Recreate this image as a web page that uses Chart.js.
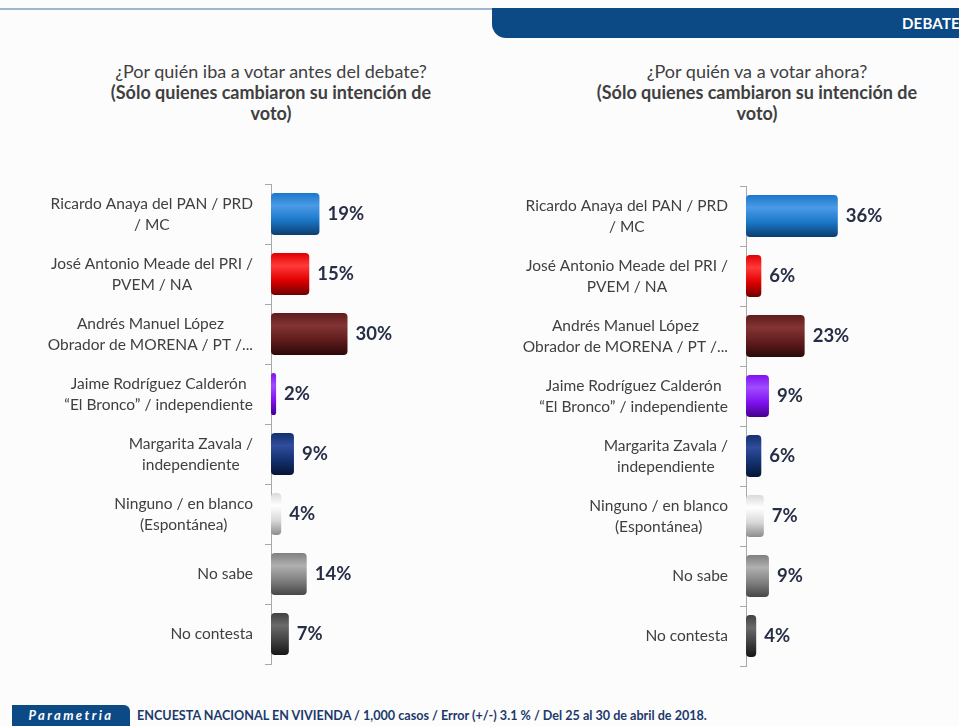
<!DOCTYPE html>
<html>
<head>
<meta charset="utf-8">
<script src="https://cdn.jsdelivr.net/npm/chart.js@4/dist/chart.umd.min.js"></script>
<style>
  body { margin: 0; width: 959px; height: 726px; background: #fcfcfd; position: relative; overflow: hidden; font-family: Lato, "Open Sans", sans-serif; }
  .banner { position: absolute; left: 492px; top: 8px; width: 480px; height: 30px; background: #0c4a86; border-bottom-left-radius: 14px; }
  .banner span { position: absolute; left: 410px; top: 6px; color: #fff; font-weight: bold; font-size: 15px; letter-spacing: 0.2px; }
  .topline { position: absolute; left: 0; top: 8px; width: 500px; height: 2px; background: #9fb6cf; }
  .title { position: absolute; top: 61px; width: 420px; text-align: center; color: #404040; font-size: 18px; line-height: 21px; }
  .title b { font-weight: bold; }
  .chart { position: absolute; top: 170px; width: 479px; height: 510px; }
  .logo { position: absolute; left: 12px; top: 705px; width: 118px; height: 21px; background: #0c4a86; border-top-right-radius: 6px; color: #fff; font-weight: bold; font-style: italic; font-size: 13px; letter-spacing: 2.4px; line-height: 21px; text-align: center; }
  .foot { position: absolute; left: 137px; top: 708px; color: #1b3a6b; font-size: 12.6px; font-weight: bold; }
</style>
</head>
<body>
<div class="topline"></div>
<div class="banner"><span>DEBATE</span></div>
<div class="title" style="left:61px">¿Por quién iba a votar antes del debate?<br><b>(Sólo quienes cambiaron su intención de<br>voto)</b></div>
<div class="title" style="left:547px">¿Por quién va a votar ahora?<br><b>(Sólo quienes cambiaron su intención de<br>voto)</b></div>
<div class="chart" style="left:0"><canvas id="before_chart"></canvas></div>
<div class="chart" style="left:480px"><canvas id="now_chart"></canvas></div>
<div class="logo">Parametria</div>
<div class="foot">ENCUESTA NACIONAL EN VIVIENDA / 1,000 casos / Error (+/-) 3.1 % / Del 25 al 30 de abril de 2018.</div>
<script>
var candidates = [
    ["Ricardo Anaya del PAN / PRD", "/ MC"],
    ["José Antonio Meade del PRI /", "PVEM / NA"],
    ["Andrés Manuel López", "Obrador de MORENA / PT /..."],
    ["Jaime Rodríguez Calderón", "“El Bronco” / independiente"],
    ["Margarita Zavala /", "independiente"],
    ["Ninguno / en blanco", "(Espontánea)"],
    ["No sabe"],
    ["No contesta"]
];
var before_values = [19, 15, 30, 2, 9, 4, 14, 7];
var now_values = [36, 6, 23, 9, 6, 7, 9, 4];

// light, mid, dark for each bar (cylinder look)
var bar_colors = [
    ["#4a9be6", "#1c77c9", "#0c3d6e"],
    ["#ff3a3a", "#e00000", "#6e0000"],
    ["#833434", "#5f1c1c", "#2c0909"],
    ["#a04cff", "#7f12f0", "#45008c"],
    ["#2f4d9c", "#14306f", "#061536"],
    ["#ffffff", "#d9d9d9", "#8c8c8c"],
    ["#b0b0b0", "#808080", "#474747"],
    ["#6a6a6a", "#414141", "#161616"]
];

function barGradient(ctx) {
    var chart = ctx.chart;
    var c = bar_colors[ctx.dataIndex];
    if (!chart.chartArea || ctx.dataIndex === undefined) return c[1];
    var y = chart.scales.y.getPixelForValue(ctx.dataIndex);
    var g = chart.ctx.createLinearGradient(0, y - 21, 0, y + 21);
    g.addColorStop(0, c[1]);
    g.addColorStop(0.3, c[0]);
    g.addColorStop(0.65, c[1]);
    g.addColorStop(1, c[2]);
    return g;
}

var labelPlugin = {
    id: 'labelPlugin',
    afterDraw: function (chart) {
        var ctx = chart.ctx;
        var yScale = chart.scales.y;
        var right = chart.chartArea.left - 18;
        ctx.save();
        ctx.font = '15.5px Lato';
        ctx.fillStyle = '#404040';
        ctx.textAlign = 'center';
        ctx.textBaseline = 'middle';
        for (var i = 0; i < candidates.length; i++) {
            var lines = candidates[i];
            var w = 0;
            for (var j = 0; j < lines.length; j++) w = Math.max(w, ctx.measureText(lines[j]).width);
            var cy = yScale.getPixelForValue(i);
            var y0 = cy - (lines.length - 1) * 10.5;
            for (var k = 0; k < lines.length; k++) {
                ctx.fillText(lines[k], right - w / 2, y0 + k * 21);
            }
        }
        // values
        var meta = chart.getDatasetMeta(0);
        ctx.font = 'bold 18.5px Lato';
        ctx.fillStyle = '#262f45';
        ctx.textAlign = 'left';
        meta.data.forEach(function (bar, i) {
            ctx.fillText(chart.data.datasets[0].data[i] + '%', bar.x + 8, bar.y);
        });
        ctx.restore();
    }
};

function buildChart(id, values, axisWidth, padRight, padTop) {
    var el = document.getElementById(id);
    return new Chart(el, {
        type: 'bar',
        data: {
            labels: candidates,
            datasets: [{
                data: values,
                backgroundColor: barGradient,
                borderRadius: 4,
                borderSkipped: false,
                categoryPercentage: 1,
                barPercentage: 0.7
            }]
        },
        options: {
            indexAxis: 'y',
            responsive: false,
            animation: false,
            layout: { padding: { top: padTop, bottom: 510 - padTop - 480, right: padRight, left: 0 } },
            plugins: { legend: { display: false }, tooltip: { enabled: false } },
            scales: {
                x: { display: false, min: 0, max: 80 },
                y: {
                    afterFit: function (scale) { scale.width = axisWidth; },
                    ticks: { display: false },
                    grid: { offset: true, drawOnChartArea: false, drawTicks: true, tickLength: 6, color: '#a8a8a8' },
                    border: { display: true, color: '#a8a8a8' }
                }
            }
        },
        plugins: [labelPlugin]
    });
}

document.getElementById('before_chart').width = 479;
document.getElementById('before_chart').height = 510;
document.getElementById('now_chart').width = 479;
document.getElementById('now_chart').height = 510;
buildChart('before_chart', before_values, 271, 4, 14);
buildChart('now_chart', now_values, 266, 9, 16);
</script>
</body>
</html>
